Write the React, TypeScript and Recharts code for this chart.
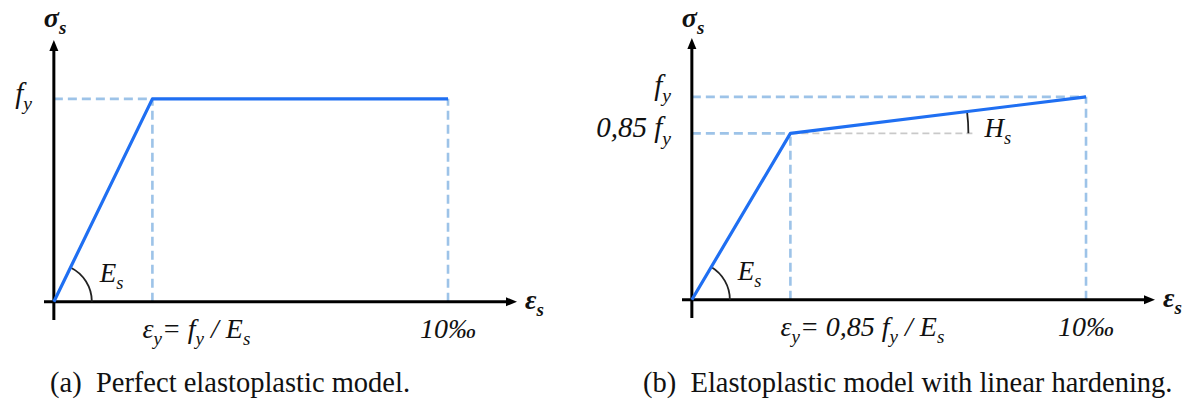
import React from 'react';
import { LineChart, Line, XAxis, YAxis, ReferenceLine } from 'recharts';

const FONT = '"Liberation Serif", LiberationSerif, Tinos, "DejaVu Serif", "Times New Roman", Times, serif';
const BLUE = '#1f6ff2';
const DASH = '#9dc3e8';
const GREY = '#c9c9c9';
const AXIS = '#000000';
const TEXT = '#111111';

// ---- data ----
const strainA = [0, 2.5, 10];
const stressA = [0, 1, 1];
const strainB = [0, 2.5, 10];
const stressB = [0, 0.82, 1];
const xTicksA = [2.5, 10];
const xTickLabelsA = ['ε_y= f_y / E_s', '10‰'];
const yTicksA = [1];
const yTickLabelsA = ['f_y'];
const xTicksB = [2.5, 10];
const xTickLabelsB = ['ε_y= 0,85 f_y / E_s', '10‰'];
const yTicksB = [0.82, 1];
const yTickLabelsB = ['0,85 f_y', 'f_y'];
const xDomain = [-0.25, 11.75];
const yDomain = [-0.09, 1.29];
const axisLabelX = 'ε_s';
const axisLabelY = 'σ_s';
const slopeLabel = 'E_s';
const hardeningLabel = 'H_s';
const captionA = '(a)  Perfect elastoplastic model.';
const captionB = '(b)  Elastoplastic model with linear hardening.';

function mathSpans(s: string, fs: number) {
  const parts: { t: string; sub: boolean }[] = [];
  let buf = '';
  let i = 0;
  while (i < s.length) {
    if (s[i] === '_' && i + 1 < s.length) {
      if (buf) parts.push({ t: buf, sub: false });
      buf = '';
      parts.push({ t: s[i + 1], sub: true });
      i += 2;
    } else {
      buf += s[i];
      i++;
    }
  }
  if (buf) parts.push({ t: buf, sub: false });
  let shifted = false;
  return parts.map((p, k) => {
    const dy = p.sub ? (shifted ? 0 : fs * 0.26) : shifted ? -fs * 0.26 : 0;
    shifted = p.sub;
    return (
      <tspan key={k} fontSize={p.sub ? fs * 0.68 : fs} dy={dy}>
        {p.t}
      </tspan>
    );
  });
}

const makeArrow = (label: string, lx: number, ly: number) => (props: any) => {
  const { x1, y1, x2, y2 } = props;
  const ang = Math.atan2(y2 - y1, x2 - x1);
  const L = 11;
  const W = 4.5;
  const c = Math.cos(ang);
  const s = Math.sin(ang);
  const bx = x2 - L * c;
  const by = y2 - L * s;
  const pts = `${x2},${y2} ${bx + W * s},${by - W * c} ${bx - W * s},${by + W * c}`;
  return (
    <g>
      <line x1={x1} y1={y1} x2={bx + c} y2={by + s} stroke={AXIS} strokeWidth={3} />
      <polygon points={pts} fill={AXIS} />
      <text
        x={x2 + lx}
        y={y2 + ly}
        fontFamily={FONT}
        fontStyle="italic"
        fontWeight="bold"
        fontSize={28}
        fill={TEXT}
      >
        {mathSpans(label, 28)}
      </text>
    </g>
  );
};

const makeAngle = (label: string, r: number, lx: number, ly: number, guide: number) => (props: any) => {
  const { x1, y1, x2, y2 } = props;
  const ang = Math.atan2(y2 - y1, x2 - x1);
  const ex = x1 + r * Math.cos(ang);
  const ey = y1 + r * Math.sin(ang);
  return (
    <g>
      {guide > 0 && (
        <line x1={x1} y1={y1} x2={x1 + guide} y2={y1} stroke={GREY} strokeWidth={1.6} strokeDasharray="7 4" />
      )}
      <path d={`M ${x1 + r} ${y1} A ${r} ${r} 0 0 0 ${ex} ${ey}`} fill="none" stroke="#222" strokeWidth={1.8} />
      <text x={x1 + lx} y={y1 + ly} fontFamily={FONT} fontStyle="italic" fontSize={27} fill={TEXT}>
        {mathSpans(label, 27)}
      </text>
    </g>
  );
};

type PanelProps = {
  xs: number[];
  ys: number[];
  xTicks: number[];
  xLabels: string[];
  yTicks: number[];
  yLabels: string[];
  yLabelDy: number[];
  hardening: boolean;
  left: number;
  width: number;
  top: number;
  yAxisWidth: number;
  right: number;
  bottom: number;
  yTickDx: number;
  titleDy: number;
};

function Panel(p: PanelProps) {
  const data = p.xs.map((x, i) => ({ x, y: p.ys[i] }));
  const XTick = (props: any) => {
    const { x, y, payload } = props;
    const i = p.xTicks.indexOf(payload.value);
    if (i < 0) return null;
    const last = i === p.xTicks.length - 1;
    return (
      <text
        x={last ? x : x - 10}
        y={y + 18}
        textAnchor={last ? 'middle' : 'start'}
        fontFamily={FONT}
        fontStyle="italic"
        fontSize={28}
        fill={TEXT}
      >
        {mathSpans(p.xLabels[i], 28)}
      </text>
    );
  };
  const YTick = (props: any) => {
    const { x, y, payload } = props;
    const i = p.yTicks.indexOf(payload.value);
    if (i < 0) return null;
    return (
      <text
        x={x + p.yTickDx}
        y={y + p.yLabelDy[i]}
        textAnchor="end"
        fontFamily={FONT}
        fontStyle="italic"
        fontSize={29}
        fill={TEXT}
      >
        {mathSpans(p.yLabels[i], 29)}
      </text>
    );
  };

  const guides: { a: { x: number; y: number }; b: { x: number; y: number } }[] = [];
  const seen: number[] = [];
  data.forEach((d, i) => {
    if (i === 0) return;
    if (!seen.includes(d.y)) {
      seen.push(d.y);
      guides.push({ a: { x: 0, y: d.y }, b: { x: d.x, y: d.y } });
    }
    guides.push({ a: { x: d.x, y: 0 }, b: { x: d.x, y: d.y } });
  });

  return (
    <div style={{ position: 'absolute', left: p.left, top: 0 }}>
      <LineChart
        width={p.width}
        height={405}
        data={data}
        margin={{ top: p.top, right: p.right, bottom: p.bottom, left: 0 }}
      >
        <XAxis
          dataKey="x"
          type="number"
          domain={xDomain}
          allowDataOverflow
          ticks={p.xTicks}
          axisLine={false}
          tickLine={false}
          tickSize={0}
          tickMargin={0}
          height={30}
          tick={XTick}
          interval={0}
        />
        <YAxis
          type="number"
          domain={yDomain}
          allowDataOverflow
          ticks={p.yTicks}
          axisLine={false}
          tickLine={false}
          tickSize={0}
          tickMargin={0}
          width={p.yAxisWidth}
          tick={YTick}
          interval={0}
        />
        {guides.map((g, k) => (
          <ReferenceLine
            key={'g' + k}
            segment={[g.a, g.b]}
            stroke={DASH}
            strokeWidth={2.6}
            strokeDasharray="9 5"
            ifOverflow="visible"
          />
        ))}
        <ReferenceLine
          segment={[
            { x: xDomain[0], y: 0 },
            { x: xDomain[1], y: 0 },
          ]}
          ifOverflow="visible"
          shape={makeArrow(axisLabelX, 8, 7)}
        />
        <ReferenceLine
          segment={[
            { x: 0, y: yDomain[0] },
            { x: 0, y: yDomain[1] },
          ]}
          ifOverflow="visible"
          shape={makeArrow(axisLabelY, -10, p.titleDy)}
        />
        <ReferenceLine
          segment={[
            { x: p.xs[0], y: p.ys[0] },
            { x: p.xs[1], y: p.ys[1] },
          ]}
          ifOverflow="visible"
          shape={makeAngle(slopeLabel, 38, 46, -20, 0)}
        />
        {p.hardening && (
          <ReferenceLine
            segment={[
              { x: p.xs[1], y: p.ys[1] },
              { x: p.xs[2], y: p.ys[2] },
            ]}
            ifOverflow="visible"
            shape={makeAngle(hardeningLabel, 178, 194, 4, 182)}
          />
        )}
        <Line
          dataKey="y"
          stroke={BLUE}
          strokeWidth={3.2}
          dot={false}
          isAnimationActive={false}
          strokeLinejoin="round"
        />
      </LineChart>
    </div>
  );
}

export default function App() {
  const cap: React.CSSProperties = {
    position: 'absolute',
    top: 369,
    fontFamily: FONT,
    fontSize: 28.5,
    lineHeight: '28.5px',
    whiteSpace: 'pre',
    color: TEXT,
  };
  return (
    <div style={{ position: 'absolute', left: 0, top: 0, width: 1196, height: 405, background: '#fff', overflow: 'hidden' }}>
      <Panel
        xs={strainA}
        ys={stressA}
        xTicks={xTicksA}
        xLabels={xTickLabelsA}
        yTicks={yTicksA}
        yLabels={yTickLabelsA}
        yLabelDy={[4]}
        hardening={false}
        left={0}
        width={598}
        top={40}
        yAxisWidth={44}
        right={81}
        bottom={55}
        yTickDx={-12}
        titleDy={-13}
      />
      <Panel
        xs={strainB}
        ys={stressB}
        xTicks={xTicksB}
        xLabels={xTickLabelsB}
        yTicks={yTicksB}
        yLabels={yTickLabelsB}
        yLabelDy={[4, -2]}
        hardening={true}
        left={560}
        width={636}
        top={38}
        yAxisWidth={122}
        right={41}
        bottom={57}
        yTickDx={-11}
        titleDy={-11}
      />
      <div style={{ ...cap, left: 50 }}>{captionA}</div>
      <div style={{ ...cap, left: 643 }}>{captionB}</div>
    </div>
  );
}
